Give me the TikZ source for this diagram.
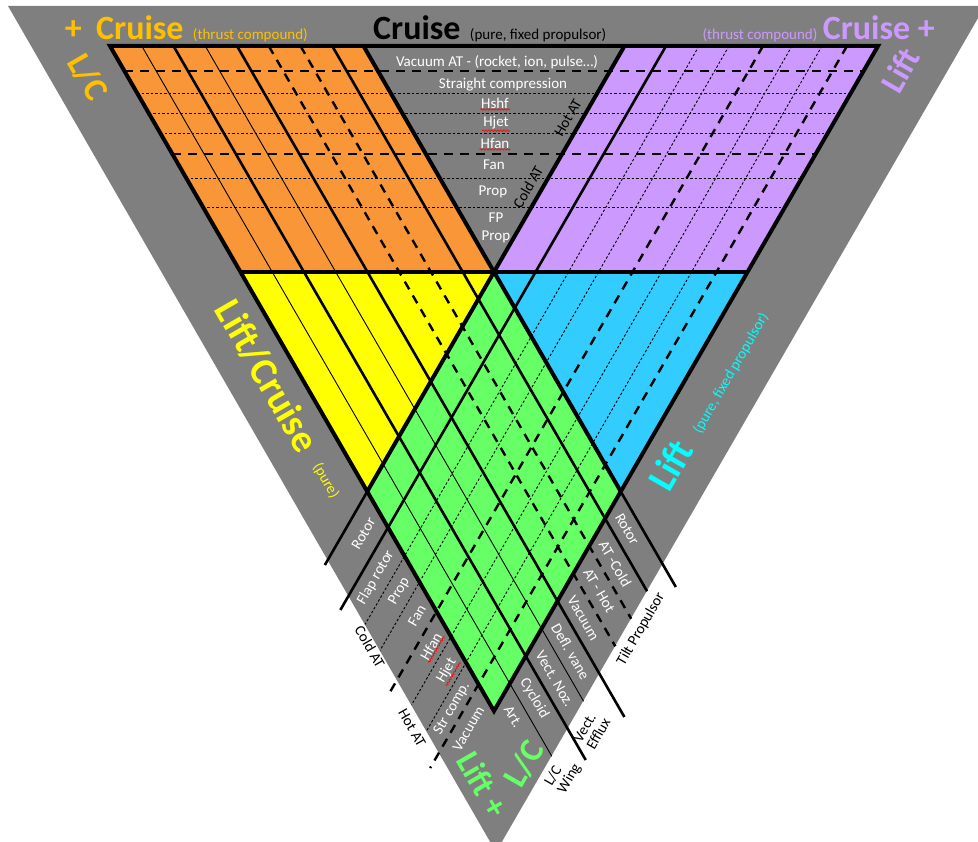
\documentclass[tikz,border=0pt]{standalone}
\usepackage{fontspec}
\setmainfont{Carlito}
\usetikzlibrary{positioning,decorations.pathmorphing}

\definecolor{bandgray}{RGB}{127,127,127}
\definecolor{orng}{RGB}{248,150,56}
\definecolor{lilac}{RGB}{204,153,255}
\definecolor{yel}{RGB}{255,255,0}
\definecolor{sky}{RGB}{51,204,255}
\definecolor{lime}{RGB}{102,255,102}
\definecolor{gold}{RGB}{255,192,0}
\definecolor{aqua}{RGB}{0,255,255}

\begin{document}
\begin{tikzpicture}[x=1pt,y=-1pt]
  \tikzstyle{rim} = [line width=4pt, line join=miter]
  \tikzstyle{heavy} = [line width=2.6pt]
  \tikzstyle{fineline} = [line width=0.9pt]
  \tikzstyle{dotline} = [line width=0.9pt, dash pattern=on 2.5pt off 2pt]
  \tikzstyle{dashline} = [line width=2.4pt, dash pattern=on 9pt off 7pt]
  \tikzstyle{bigtext} = [font=\fontsize{34}{34}\selectfont\bfseries, inner sep=0pt]
  \tikzstyle{hugetext} = [font=\fontsize{39}{39}\selectfont\bfseries, inner sep=0pt]
  \tikzstyle{smalltext} = [font=\fontsize{15}{15}\selectfont, inner sep=1pt]
  \tikzstyle{celltext} = [smalltext, text=white]
  \tikzstyle{squig} = [red, line width=0.6pt, decorate, decoration={snake, amplitude=0.8pt, segment length=3pt}]

  \useasboundingbox (0,0) rectangle (978,842);
  \clip (0,0) rectangle (978,842);

  % corners of the inner triangle and its parts
  \coordinate (A) at (110,46);
  \coordinate (B) at (878,46);
  \coordinate (C) at (494,711);
  \coordinate (P) at (494,272);
  \coordinate (L) at (240.5,272);
  \coordinate (R) at (747.5,272);
  \coordinate (TL) at (363.5,46);
  \coordinate (TR) at (624.5,46);
  \coordinate (YL) at (367.25,491.5);
  \coordinate (BR) at (620.75,491.5);

  % gray band
  \fill[bandgray] (8,6) -- (985,6) -- (496,852) -- cycle;

  % coloured fields
  \fill[orng] (A) -- (TL) -- (P) -- (L) -- cycle;
  \fill[lilac] (TR) -- (B) -- (R) -- (P) -- cycle;
  \fill[yel] (L) -- (P) -- (YL) -- cycle;
  \fill[sky] (P) -- (R) -- (BR) -- cycle;
  \fill[lime] (P) -- (BR) -- (C) -- (YL) -- cycle;

  % cruise rows
  \foreach \y/\s in {71/dashline, 93/dotline, 113/dotline, 133/dotline, 154/dashline, 178/dotline, 207/dotline}
    \draw[\s] ({110+0.57735*(\y-46)},\y) -- ({878-0.57735*(\y-46)},\y);

  % lift/cruise columns (parallel to the left side)
  \foreach \x/\s/\e in {141.75/fineline/756.3, 173.5/heavy/760, 205.25/fineline/701.3, 237/heavy/717,
                        268.75/dashline/646.3, 300.5/dashline/618.8, 332.25/heavy/591.3, 363.5/heavy/587}
    \draw[\s] (\x,46) -- ({\x+0.57735*(\e-46)},\e);

  % lift columns (parallel to the right side)
  \foreach \x/\s/\e in {624.5/heavy/565, 666/heavy/610, 699/dotline/624.4, 729/dotline/650.4,
                        763/dashline/695, 792/dotline/705, 822/dotline/730.9, 847/dashline/768}
    \draw[\s] (\x,46) -- ({\x-0.57735*(\e-46)},\e);

  % field borders
  \draw[rim] (A) -- (B) -- (C) -- cycle;
  \draw[rim] (L) -- (R);
  \draw[rim] (TL) -- (P) -- (BR);
  \draw[rim] (TR) -- (P) -- (YL);

  % titles
  \node[bigtext, text=gold, anchor=base west] (cruiseL) at (96,40) {Cruise};
  \node[bigtext, text=gold, anchor=base east] (plusL) at ([xshift=-14pt]cruiseL.base west) {+};
  \node[smalltext, text=gold, anchor=base west] (thrustL) at ([xshift=8pt]cruiseL.base east) {(thrust compound)};
  \node[bigtext, anchor=base west] (cruiseC) at (373,40) {Cruise};
  \node[smalltext, anchor=base west] (pureC) at ([xshift=8pt]cruiseC.base east) {(pure, fixed propulsor)};
  \node[bigtext, text=lilac, anchor=base east] (cruiseR) at (935,40) {Cruise +};
  \node[smalltext, text=lilac, anchor=base east] (thrustR) at ([xshift=-4pt]cruiseR.base west) {(thrust compound)};
  \node[bigtext, text=gold, rotate=-60] (lcL) at (88,77) {L/C};
  \node[bigtext, text=lilac, rotate=60] (liftR) at (900,70) {Lift};
  \node[hugetext, text=yel, rotate=-60] (liftcruise) at (267,376) {Lift/Cruise};
  \node[smalltext, text=yel, rotate=-60] (pureY) at (326,481) {(pure)};
  \node[hugetext, text=aqua, rotate=60] (liftB) at (670,465) {Lift};
  \node[smalltext, text=aqua, rotate=60] (pureB) at (731,373) {(pure, fixed propulsor)};
  \node[bigtext, text=lime, rotate=-60] (liftG) at (483,784) {Lift +};
  \node[bigtext, text=lime, rotate=60] (lcG) at (524,764) {L/C};

  % cruise labels
  \node[celltext] (vac) at (497,62) {Vacuum AT - (rocket, ion, pulse…)};
  \node[celltext] (strc) at (503,85) {Straight compression};
  \node[celltext] (hshf) at (495,103) {Hshf};
  \node[celltext] (hjet) at (496,123) {Hjet};
  \node[celltext] (hfan) at (495,143) {Hfan};
  \node[celltext] (fan) at (494,165) {Fan};
  \node[celltext] (prop) at (493,192) {Prop};
  \node[celltext] (fp) at (496,218) {FP};
  \node[celltext] (fpprop) at (496,237) {Prop};
  \node[smalltext, rotate=60] (hotC) at (568,118) {Hot AT};
  \node[smalltext, rotate=60] (coldC) at (528,187) {Cold AT};

  % lift labels (lower left)
  \foreach \m/\t [count=\i] in {645/Rotor, 682.5/Flap rotor, 714/Prop, 746/Fan, 777.5/Hfan, 807/Hjet, 834.5/Str comp., 862.5/Vacuum}
    \node[celltext, rotate=60, anchor=east] (ll\i) at ({(\m+110)/2-5},{46+0.866*(\m-110)+8.7}) {\t};
  \node[smalltext, rotate=-60] (coldL) at (370,647) {Cold AT};
  \node[smalltext, rotate=-60] (hotL) at (412,728) {Hot AT};

  % lift/cruise labels (lower right)
  \foreach \m/\t [count=\i] in {125.9/Art., 157.6/Cycloid, 189.4/Vect. Noz., 221.1/Defl. vane, 252.9/Vacuum, 284.6/AT - Hot, 316.4/AT -Cold, 348.1/Rotor}
    \node[celltext, rotate=-60, anchor=west] (lr\i) at ({(878+\m)/2+5},{46+0.866*(878-\m)+8.7}) {\t};
  \node[smalltext, rotate=60] (tilt) at (641,629) {Tilt Propulsor};
  \node[smalltext, rotate=60, align=left] (efflux) at (592,730) {Vect.\\Efflux};
  \node[smalltext, rotate=60, align=left] (wing) at (563,775) {L/C\\Wing};

  % spelling marks
  \foreach \n in {hshf, hjet, hfan, ll5, ll6}
    \draw[squig] (\n.south west) -- (\n.south east);
\end{tikzpicture}
\end{document}
